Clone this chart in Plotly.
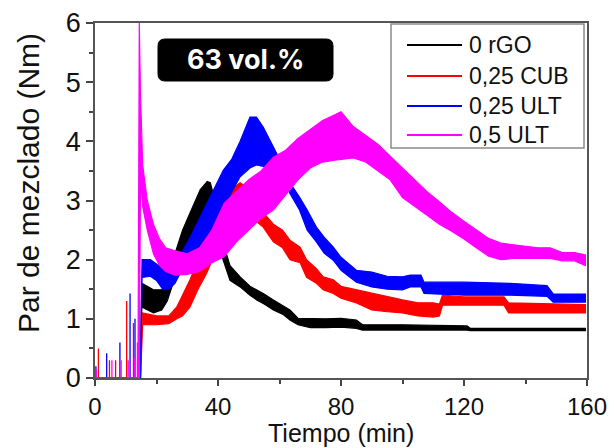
import plotly.graph_objects as go

# ---------------- data ----------------
series_names = ["0 rGO", "0,25 CUB", "0,25 ULT", "0,5 ULT"]
series_colors = ["#000000", "#ff0000", "#0000ff", "#ff00ff"]

# envelopes of the noisy torque signal: time (min), lower and upper value (Nm)
black_t = [14.8, 15.2, 17, 19, 21.7, 23.5, 26, 28.5, 30.9, 34.2, 36.5, 37.5, 39, 41, 43.9, 47.2, 50.4,
           52.6, 55, 58, 61, 63.4, 66, 70, 75, 80, 85, 87, 100, 121, 122, 159.5]
black_lo = [0, 1.2, 1.15, 1.1, 1.15, 1.3, 1.7, 1.95, 2.21, 2.55, 2.9, 3.0, 2.6, 2.1, 1.65, 1.54, 1.4,
            1.32, 1.25, 1.15, 1.08, 0.98, 0.9, 0.85, 0.85, 0.86, 0.84, 0.81, 0.81, 0.81, 0.8, 0.8]
black_hi = [0.3, 1.6, 1.55, 1.49, 1.49, 1.6, 2.1, 2.5, 2.79, 3.18, 3.32, 3.3, 3.0, 2.4, 1.9, 1.71, 1.55,
            1.49, 1.42, 1.32, 1.22, 1.15, 1.01, 1.0, 1.0, 1.01, 0.98, 0.9, 0.9, 0.88, 0.84, 0.84]

red_t = [14.8, 15.5, 20, 24, 26.6, 28.5, 30.9, 33.5, 36.3, 39, 41.7, 44.5, 47.2, 50, 54.7, 58, 61, 63.4,
         66.7, 68.8, 72, 74.2, 77.5, 80, 85, 90, 95, 100, 105, 110, 112, 113, 120, 133, 134.5, 159.5]
red_lo = [0, 0.9, 0.9, 0.92, 1.0, 1.05, 1.2, 1.5, 1.77, 2.1, 2.5, 2.7, 2.8, 2.75, 2.55, 2.3, 2.2, 2.0,
          1.95, 1.7, 1.6, 1.49, 1.43, 1.35, 1.27, 1.15, 1.12, 1.1, 1.05, 1.03, 1.05, 1.23, 1.23, 1.23, 1.1, 1.1]
red_hi = [0.3, 1.1, 1.05, 1.05, 1.2, 1.4, 1.66, 2.0, 2.38, 2.7, 3.0, 3.2, 3.3, 3.2, 2.8, 2.6, 2.5, 2.33,
          2.21, 2.0, 1.85, 1.71, 1.66, 1.55, 1.49, 1.43, 1.38, 1.32, 1.27, 1.27, 1.25, 1.4, 1.37, 1.37, 1.27, 1.24]

blue_t = [14.8, 15.3, 18, 20, 22, 24, 26, 28, 31, 34, 36.3, 39, 41.7, 44.5, 47.2, 50.4, 52.5, 54.7, 57,
          59, 61, 63.4, 66.5, 69, 72, 74.5, 77.5, 80, 85, 90, 95, 100, 102.5, 106, 107, 120, 135, 147,
          149, 159.5]
blue_lo = [0, 1.7, 1.72, 1.65, 1.5, 1.5, 1.6, 1.8, 2.04, 2.2, 2.38, 2.6, 2.84, 3.15, 3.4, 3.55, 3.6,
           3.57, 3.55, 3.55, 3.4, 3.12, 2.84, 2.5, 2.3, 2.11, 1.99, 1.82, 1.62, 1.54, 1.5, 1.49, 1.54,
           1.54, 1.43, 1.40, 1.40, 1.38, 1.28, 1.28]
blue_hi = [0.3, 2.0, 2.0, 1.92, 1.85, 1.8, 1.95, 2.1, 2.38, 2.7, 2.96, 3.25, 3.51, 3.7, 4.0, 4.41, 4.41,
           4.24, 4.0, 3.8, 3.6, 3.3, 3.06, 2.84, 2.55, 2.38, 2.21, 2.04, 1.82, 1.79, 1.72, 1.71, 1.74,
           1.74, 1.62, 1.62, 1.6, 1.56, 1.42, 1.42]

magenta_t = [14.0, 14.4, 14.8, 15.5, 17, 19, 21, 23, 26, 30, 34, 38, 42, 46, 50, 54, 58, 62, 66, 70,
             74, 78, 80, 84, 88, 92, 96, 100, 104, 108, 112, 116, 120, 124, 128, 132, 136, 140, 144,
             148, 152, 156, 159.5]
magenta_lo = [0, 0, 3.4, 2.9, 2.5, 2.1, 1.9, 1.8, 1.74, 1.75, 1.8, 1.95, 2.05, 2.3, 2.5, 2.7, 2.84,
              3.1, 3.35, 3.55, 3.65, 3.68, 3.7, 3.72, 3.65, 3.5, 3.35, 3.05, 2.9, 2.75, 2.6, 2.48,
              2.35, 2.2, 2.06, 2.0, 2.02, 2.02, 2.02, 2.02, 1.98, 1.98, 1.9]
magenta_hi = [0.3, 6.0, 4.8, 3.6, 3.0, 2.6, 2.35, 2.2, 2.15, 2.1, 2.2, 2.5, 2.95, 3.15, 3.35, 3.5,
              3.73, 3.85, 4.05, 4.2, 4.35, 4.45, 4.5, 4.25, 4.1, 3.95, 3.75, 3.55, 3.35, 3.15, 2.98,
              2.8, 2.65, 2.5, 2.36, 2.28, 2.25, 2.22, 2.2, 2.2, 2.12, 2.12, 2.08]

# start-up spikes before the main signal (time, height)
black_spk_t, black_spk_v = [], []
red_spk_t = [1.1, 4.7, 6.7, 10.3, 12.5]
red_spk_v = [0.5, 0.3, 0.3, 1.3, 0.93]
blue_spk_t = [0.3, 3.8, 8.1, 11.4, 13.0]
blue_spk_v = [0.2, 0.42, 0.6, 1.43, 1.0]
magenta_spk_t = [0.4, 5.5, 8.5, 10.8, 12.8, 13.8]
magenta_spk_v = [0.15, 0.3, 0.3, 0.3, 0.35, 0.6]

x_ticks = [0, 40, 80, 120, 160]
y_ticks = [0, 1, 2, 3, 4, 5, 6]
x_title = "Tiempo (min)"
y_title = "Par de mezclado (Nm)"
annotation_text = "63 vol.%"

# ---------------- figure ----------------
envelopes = [
    (black_t, black_lo, black_hi, black_spk_t, black_spk_v),
    (red_t, red_lo, red_hi, red_spk_t, red_spk_v),
    (blue_t, blue_lo, blue_hi, blue_spk_t, blue_spk_v),
    (magenta_t, magenta_lo, magenta_hi, magenta_spk_t, magenta_spk_v),
]

fig = go.Figure()
for (t, lo, hi, st, sv), name, col in zip(envelopes, series_names, series_colors):
    # start-up spikes as vertical strokes on the zero baseline
    sx, sy = [0.0], [0.0]
    for ti, vi in zip(st, sv):
        sx += [ti, ti, ti]
        sy += [0.0, vi, 0.0]
    sx.append(t[0])
    sy.append(0.0)
    fig.add_trace(go.Scatter(x=sx, y=sy, mode="lines", line=dict(color=col, width=1.3),
                             name=name, showlegend=False, hoverinfo="skip"))
    # noisy band
    fig.add_trace(go.Scatter(x=list(t) + list(t)[::-1], y=list(hi) + list(lo)[::-1],
                             mode="lines", fill="toself", fillcolor=col,
                             line=dict(color=col, width=1.2), name=name, showlegend=False))

# pixel geometry of the plot area
L, R, T, B = 95, 587, 23, 378
W, H = 614, 448
FONT = "Liberation Sans, Arial"


def px(x):
    return (x - L) / (R - L)


def py(y):
    return (B - y) / (B - T)


shapes = []
annotations = []

# legend box (drawn manually to match the long line samples)
shapes.append(dict(type="rect", xref="paper", yref="paper", x0=px(391), x1=px(584), y0=py(148), y1=py(24),
                   line=dict(color="#8a8a8a", width=1.5), fillcolor="white", layer="above"))
leg_y = [45, 76, 106, 135]
for name, col, yy in zip(series_names, series_colors, leg_y):
    shapes.append(dict(type="line", xref="paper", yref="paper", x0=px(407), x1=px(462), y0=py(yy), y1=py(yy),
                       line=dict(color=col, width=2), layer="above"))
    annotations.append(dict(xref="paper", yref="paper", x=px(467), y=py(yy), text=name, showarrow=False,
                            xanchor="left", yanchor="middle",
                            font=dict(family=FONT, size=23, color="#111")))

# rounded black label box
x0, x1, y0, y1 = px(158), px(333), py(81), py(39)
rx, ry = 7 / (R - L), 7 / (B - T)
path = (f"M {x0+rx},{y0} L {x1-rx},{y0} Q {x1},{y0} {x1},{y0+ry} L {x1},{y1-ry} Q {x1},{y1} {x1-rx},{y1} "
        f"L {x0+rx},{y1} Q {x0},{y1} {x0},{y1-ry} L {x0},{y0+ry} Q {x0},{y0} {x0+rx},{y0} Z")
shapes.append(dict(type="path", xref="paper", yref="paper", path=path, fillcolor="black",
                   line=dict(color="black", width=1), layer="above"))
annotations.append(dict(xref="paper", yref="paper", x=px(245.5), y=py(60), text=f"<b>{annotation_text}</b>",
                        showarrow=False, xanchor="center", yanchor="middle",
                        font=dict(family="Inter, Roboto, sans-serif", size=27, color="white")))

# axis titles
annotations.append(dict(xref="paper", yref="paper", x=px(341), y=py(448), text=x_title, showarrow=False,
                        xanchor="center", yanchor="bottom", borderpad=0,
                        font=dict(family=FONT, size=25, color="#111")))
annotations.append(dict(xref="paper", yref="paper", x=px(29), y=py(183), text=y_title, showarrow=False,
                        textangle=-90, xanchor="center", yanchor="middle",
                        font=dict(family=FONT, size=30, color="#111")))

axis_common = dict(showgrid=False, zeroline=False, showline=True, linecolor="#555", linewidth=1.5,
                   mirror=True, ticks="outside", tickwidth=1.5, tickcolor="#444",
                   automargin=False)

fig.update_layout(
    width=W, height=H,
    margin=dict(l=L, r=W - R, t=T, b=H - B),
    paper_bgcolor="white", plot_bgcolor="white",
    showlegend=False,
    shapes=shapes, annotations=annotations,
    xaxis=dict(range=[0, 160], tickvals=x_ticks, ticklen=6,
               tickfont=dict(family=FONT, size=24, color="#111"),
               minor=dict(tickvals=[20, 60, 100, 140], ticks="outside", ticklen=4, tickwidth=1.5, tickcolor="#444"),
               **axis_common),
    yaxis=dict(range=[0, 6], tickvals=y_ticks, ticklen=7,
               tickfont=dict(family=FONT, size=27, color="#111"),
               minor=dict(tickvals=[0.5, 1.5, 2.5, 3.5, 4.5, 5.5], ticks="outside", ticklen=4, tickwidth=1.5,
                          tickcolor="#444"),
               **axis_common),
)

fig.write_html("out.html")
